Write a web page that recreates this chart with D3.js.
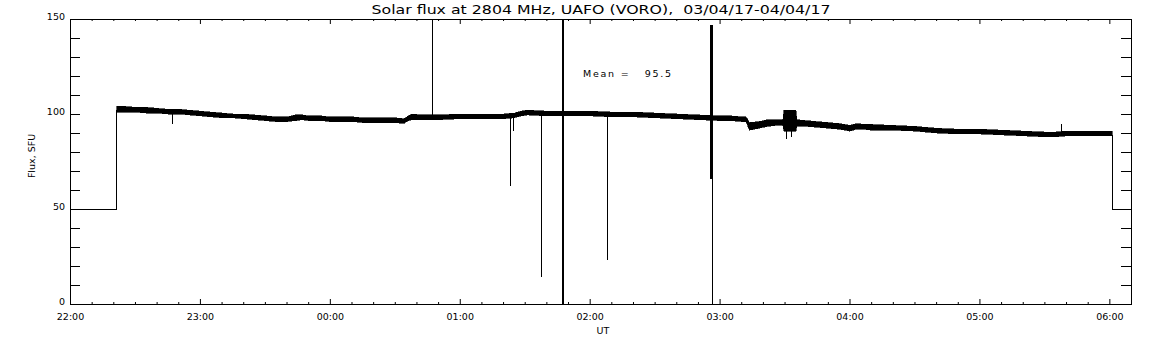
<!DOCTYPE html>
<html>
<head>
<meta charset="utf-8">
<script src="https://cdnjs.cloudflare.com/ajax/libs/d3/7.8.5/d3.min.js"></script>
<style>
html, body { margin: 0; padding: 0; background: #fff; }
svg { display: block; }
text { font-family: "DejaVu Sans", sans-serif; fill: #000; }
</style>
</head>
<body>
<svg id="chart" width="1152" height="345"></svg>
<script>
const TITLE = 'Solar flux at 2804 MHz, UAFO (VORO),  03/04/17-04/04/17';
const Y_TITLE = 'Flux, SFU';
const X_TITLE = 'UT';
const MEAN_LABEL = 'Mean =   95.5';

// minutes after 22:00 UT
const hourTicks = [0, 60, 120, 180, 240, 300, 360, 420, 480];
const hourLabels = ['22:00', '23:00', '00:00', '01:00', '02:00', '03:00', '04:00', '05:00', '06:00'];
const fluxTicks = [0, 50, 100, 150];

// envelope of the noisy trace (SFU)
const bandMinutes = [21.3, 25, 30, 35, 40, 45, 50, 55, 60, 65, 70, 75, 80, 85, 90, 95, 100, 104, 107, 110,
    115, 120, 125, 130, 135, 140, 145, 150, 154, 156, 158, 162, 170, 180, 190, 200, 205, 208, 211, 220,
    230, 240, 250, 260, 270, 280, 290, 300, 305, 310, 312, 313.5, 318, 322, 326, 329, 329.5, 335, 335.5, 340,
    345, 350, 355, 360, 363, 366, 370, 380, 390, 395, 400, 410, 420, 430, 440, 450, 455, 460, 470, 481];
const bandHigh = [104, 104, 103.5, 103.5, 103, 102.5, 102.5, 102, 101.5, 101, 100.5, 100, 100, 99.5, 99, 98.5, 98.5, 99.5, 99.5, 99,
    99, 98.5, 98.5, 98.5, 98, 98, 98, 98, 97.5, 99, 100, 99.5, 99.5, 100, 100, 100, 100.5, 101.5, 102, 101.5,
    101.5, 101.5, 101, 101, 100.5, 100, 99.5, 99, 99, 98.5, 98.5, 95.5, 96, 97, 97, 97, 102, 102, 97, 96.5,
    96, 95.5, 95, 94, 95, 94.5, 94.5, 94, 93.5, 93, 92.5, 92, 92, 91.5, 91, 90.5, 90.5, 91, 91, 91];
const bandLow = [101, 101, 101, 100.5, 100.5, 100, 100, 99.5, 99, 98.5, 98, 98, 97.5, 97, 96.5, 96, 96, 96.5, 97, 96.5,
    96.5, 96, 96, 96, 95.5, 95.5, 95.5, 95.5, 95, 96.5, 97, 97, 97, 97.5, 97.5, 97.5, 98, 99, 99.5, 99,
    99, 99, 98.5, 98.5, 98, 97.5, 97, 96.5, 96.5, 96, 96, 91.5, 92.5, 93.5, 94, 94, 91, 91, 93.5, 93.5,
    93, 92.5, 92, 91, 92, 92, 91.5, 91.5, 91, 90.5, 90, 89.5, 89.5, 89, 88.5, 88, 88, 88.5, 88.5, 88.5];

// single-sample spikes: time, start value, end value
const spikeMinutes = [46.9, 167.4, 203.4, 204.4, 217.3, 227.0, 227.5, 227.9, 247.8, 295.5, 296.0, 296.4, 296.4, 330.5, 333, 457.9];
const spikeFrom = [100, 98, 99, 99, 100, 0, 0, 0, 100, 147, 147, 147, 98, 95, 95, 89];
const spikeTo = [94.5, 160, 62, 91, 14, 160, 160, 160, 23, 66, 66, 90, 0, 87, 88, 94.7];

// fill value outside the observing window
const leadMinutes = [0, 21.3, 21.3];
const leadValues = [50, 50, 102.5];
const tailMinutes = [481, 481, 490];
const tailValues = [89.5, 50, 50];

const width = 1152, height = 345;
const svg = d3.select('#chart');

const x = d3.scaleLinear().domain([0, 490]).range([70, 1131]);
const y = d3.scaleLinear().domain([0, 150]).range([304, 19]);

svg.append('rect').attr('width', width).attr('height', height).attr('fill', '#fff');

svg.append('clipPath').attr('id', 'plot')
    .append('rect')
    .attr('x', 70.5).attr('y', 19.5)
    .attr('width', 1061).attr('height', 285);

const plot = svg.append('g')
    .attr('clip-path', 'url(#plot)')
    .attr('shape-rendering', 'crispEdges');

const band = bandMinutes.map((m, i) => ({ m, hi: bandHigh[i], lo: bandLow[i] }));

plot.append('path')
    .datum(band)
    .attr('fill', '#000')
    .attr('stroke', '#000')
    .attr('stroke-width', 0.6)
    .attr('d', d3.area()
        .x(d => x(d.m) + 0.5)
        .y0(d => y(d.lo))
        .y1(d => y(d.hi)));

const line = d3.line().x(d => Math.round(x(d[0])) + 0.5).y(d => Math.round(y(d[1])) + 0.5);

plot.append('path')
    .datum(leadMinutes.map((m, i) => [m, leadValues[i]]))
    .attr('fill', 'none').attr('stroke', '#000').attr('stroke-width', 1)
    .attr('d', line);

plot.append('path')
    .datum(tailMinutes.map((m, i) => [m, tailValues[i]]))
    .attr('fill', 'none').attr('stroke', '#000').attr('stroke-width', 1)
    .attr('d', line);

plot.selectAll('.spike')
    .data(spikeMinutes.map((m, i) => ({ m, a: spikeFrom[i], b: spikeTo[i] })))
    .join('line')
    .attr('class', 'spike')
    .attr('x1', d => Math.round(x(d.m)) + 0.5)
    .attr('x2', d => Math.round(x(d.m)) + 0.5)
    .attr('y1', d => y(d.a))
    .attr('y2', d => y(d.b))
    .attr('stroke', '#000')
    .attr('stroke-width', 1);

// frame
svg.append('rect')
    .attr('x', 70.5).attr('y', 19.5)
    .attr('width', 1061).attr('height', 285)
    .attr('fill', 'none').attr('stroke', '#000').attr('stroke-width', 1);

// x ticks: every 10 min, hours longer
const xMinor = d3.range(0, 491, 10).filter(v => v % 60 !== 0);
const drawX = (g, sign) => {
    g.call(d3.axisBottom(x).tickValues(xMinor).tickSize(-2 * sign).tickSizeOuter(0).tickFormat(''))
        .call(a => a.select('.domain').remove());
};
svg.append('g').attr('transform', `translate(0,${y(0)})`).call(g => drawX(g, 1));
svg.append('g').attr('transform', `translate(0,${y(150)})`).call(g => drawX(g, -1));
svg.append('g').attr('transform', `translate(0,${y(0)})`)
    .call(d3.axisBottom(x).tickValues(hourTicks).tickSize(-5).tickSizeOuter(0).tickFormat(''))
    .call(a => a.select('.domain').remove());
svg.append('g').attr('transform', `translate(0,${y(150)})`)
    .call(d3.axisTop(x).tickValues(hourTicks).tickSize(-5).tickSizeOuter(0).tickFormat(''))
    .call(a => a.select('.domain').remove());

// y ticks: every 10 SFU on both sides
const yMinor = d3.range(0, 151, 10);
svg.append('g').attr('transform', `translate(${x(0)},0)`)
    .call(d3.axisLeft(y).tickValues(yMinor).tickSize(-10).tickSizeOuter(0).tickFormat(''))
    .call(a => a.select('.domain').remove());
svg.append('g').attr('transform', `translate(${x(490)},0)`)
    .call(d3.axisRight(y).tickValues(yMinor).tickSize(-10).tickSizeOuter(0).tickFormat(''))
    .call(a => a.select('.domain').remove());

svg.selectAll('.tick line').attr('stroke', '#000');

// labels
svg.append('g').selectAll('text')
    .data(hourTicks)
    .join('text')
    .attr('x', d => x(d) + 0.5)
    .attr('y', 320)
    .attr('text-anchor', 'middle')
    .attr('font-size', 9.5)
    .text((d, i) => hourLabels[i]);

svg.append('g').selectAll('text')
    .data(fluxTicks)
    .join('text')
    .attr('x', 65)
    .attr('y', d => y(d) + 0.5)
    .attr('text-anchor', 'end')
    .attr('font-size', 9.5)
    .text(d => d);

svg.append('text')
    .attr('x', 601).attr('y', 14)
    .attr('text-anchor', 'middle')
    .attr('font-size', 11.5)
    .attr('textLength', 459)
    .attr('lengthAdjust', 'spacingAndGlyphs')
    .style('white-space', 'pre')
    .text(TITLE);

svg.append('text')
    .attr('transform', 'translate(35,156) rotate(-90)')
    .attr('text-anchor', 'middle')
    .attr('font-size', 9.5)
    .text(Y_TITLE);

svg.append('text')
    .attr('x', 603).attr('y', 333.5)
    .attr('text-anchor', 'middle')
    .attr('font-size', 9.5)
    .text(X_TITLE);

svg.append('text')
    .attr('x', 583).attr('y', 77)
    .attr('font-size', 9.5)
    .attr('textLength', 88)
    .attr('lengthAdjust', 'spacing')
    .style('white-space', 'pre')
    .text(MEAN_LABEL);
</script>
</body>
</html>
